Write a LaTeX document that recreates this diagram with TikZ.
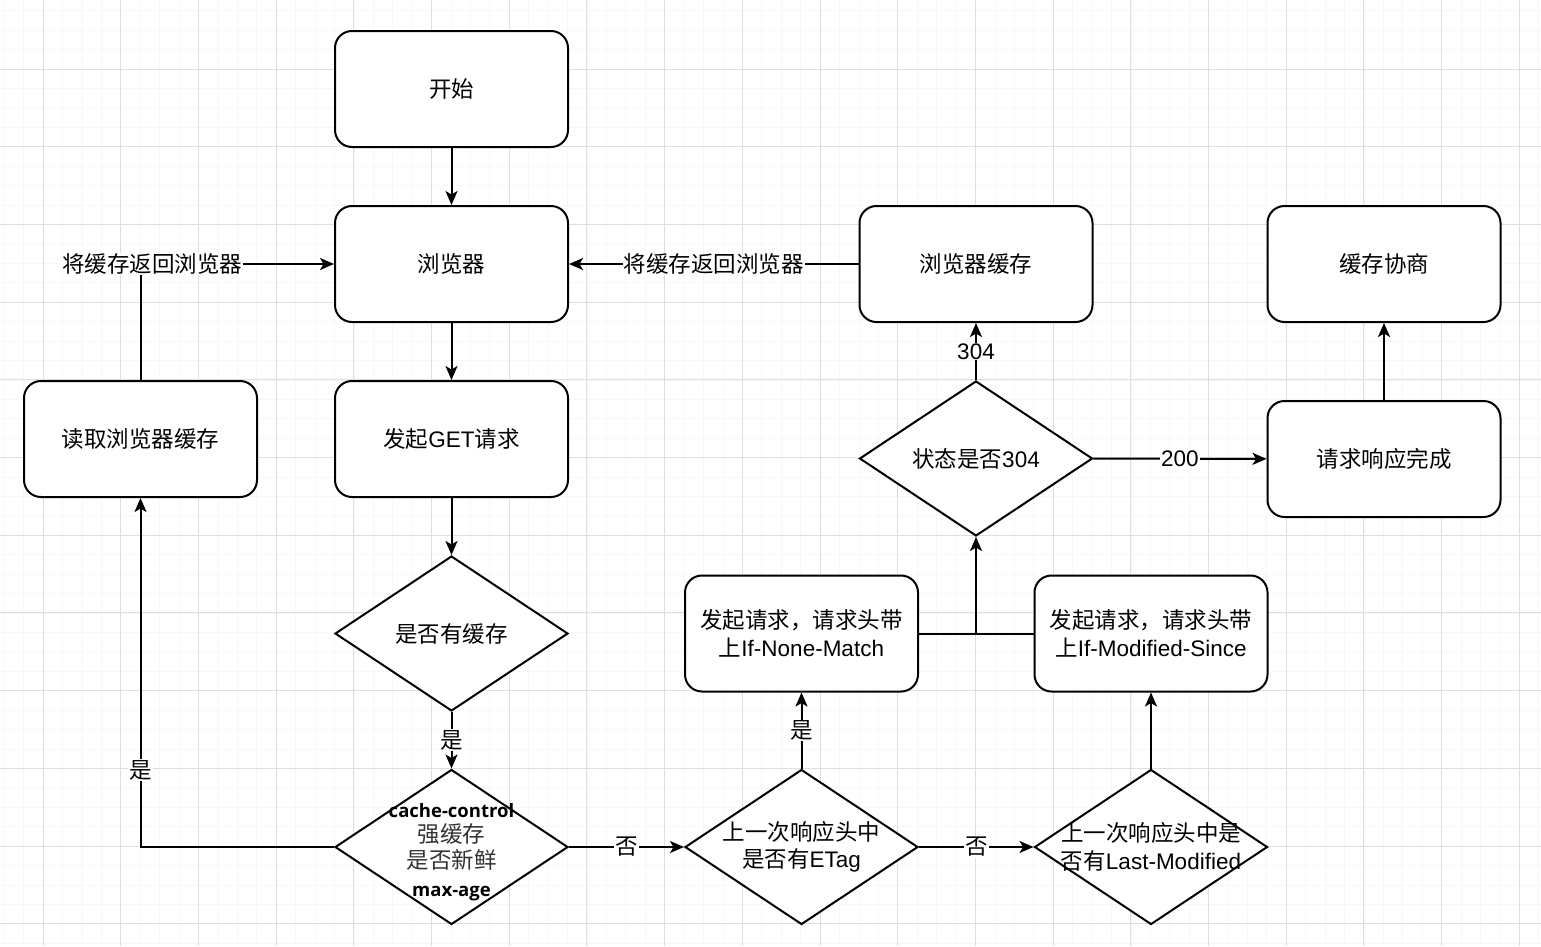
\documentclass[tikz,border=0pt]{standalone}
\usepackage{fontspec}
\setmainfont{Noto Sans CJK SC}
\newfontfamily\lat{Liberation Sans}
\newfontfamily\bsans{Open Sans}
\usetikzlibrary{shapes.geometric,arrows.meta}
\tikzset{
  base/.style={draw=black, line width=2pt, fill=white, text=black,
    font=\fontsize{22.5}{27.5}\selectfont, align=center},
  box/.style={base, rounded corners=17pt, minimum width=233pt, minimum height=116pt, inner sep=0pt},
  dia/.style={base, diamond, minimum width=233pt, minimum height=155pt, inner sep=0pt},
  arr/.style={line width=2pt, -{Stealth[length=14pt,width=12pt,inset=3.5pt]}},
  ln/.style={line width=2pt},
  lbl/.style={fill=white, inner sep=1pt, font=\fontsize{22.5}{25}\selectfont, text=black},
}
\begin{document}
\begin{tikzpicture}[x=1pt,y=-1pt]
\useasboundingbox (0,0) rectangle (1541,946);
\fill[white] (0,0) rectangle (1541,946);
% grid
\foreach \i in {-3,...,79} {
  \draw[black!3, line width=0.6pt] ({43+\i*77.7/4},0) -- ({43+\i*77.7/4},946);
}
\foreach \i in {-3,...,48} {
  \draw[black!3, line width=0.6pt] (0,{69+\i*77.7/4}) -- (1541,{69+\i*77.7/4});
}
\foreach \i in {0,...,19} {
  \draw[black!13, line width=1pt] ({43+\i*77.7},0) -- ({43+\i*77.7},946);
}
\foreach \i in {0,...,11} {
  \draw[black!13, line width=1pt] (0,{69+\i*77.7}) -- (1541,{69+\i*77.7});
}

% nodes
\node[box] (start) at (451.5,89) {开始};
\node[box] (browser) at (451.5,264) {浏览器};
\node[box] (get) at (451.5,439) {发起{\lat GET}请求};
\node[box] (read) at (140.5,439) {读取浏览器缓存};
\node[box] (bcache) at (976,264) {浏览器缓存};
\node[box] (nego) at (1384,264) {缓存协商};
\node[box] (done) at (1384,459) {请求响应完成};
\node[dia] (s304) at (976,458.5) {状态是否{\lat 304}};
\node[dia] (hascache) at (451.5,633.5) {是否有缓存};
\node[dia] (fresh) at (451.5,847) {};
\node[font=\bsans\bfseries\fontsize{18.5}{20}\selectfont] (fresh1) at (451.5,811) {cache-control};
\node[font=\fontsize{22.5}{27}\selectfont, text=black!80, align=center] (fresh2) at (451.5,847) {强缓存\\[-1pt]是否新鲜};
\node[font=\bsans\bfseries\fontsize{18.5}{20}\selectfont] (fresh3) at (451.5,894) {max-age};
\node[dia] (etag) at (801.5,847) {};
\node[font=\fontsize{22.5}{27.5}\selectfont, align=center] (etagt) at (801.5,847) {上一次响应头中\\是否有{\lat ETag}};
\node[dia] (lm) at (1151,847) {};
\node[font=\fontsize{22.5}{27.5}\selectfont, align=center] (lmt) at (1151,847) {上一次响应头中是\\否有{\lat Last-Modified}};
\node[box] (inm) at (801.5,633.5) {发起请求，请求头带\\上{\lat If-None-Match}};
\node[box] (ims) at (1151,633.5) {发起请求，请求头带\\上{\lat If-Modified-Since}};

% connectors
\draw[arr] (start) -- (browser);
\draw[arr] (browser) -- (get);
\draw[arr] (get) -- (hascache);
\draw[arr] (hascache) -- node[lbl]{是} (fresh);
\draw[arr] (fresh.west) -| node[lbl, pos=0.61]{是} (read.south);
\draw[arr] (read.north) |- node[lbl, pos=0.53]{将缓存返回浏览器} (browser.west);
\draw[arr] (fresh) -- node[lbl]{否} (etag);
\draw[arr] (etag) -- node[lbl]{是} (inm);
\draw[arr] (etag) -- node[lbl]{否} (lm);
\draw[arr] (lm) -- (ims);
\coordinate (j) at (976,633.5);
\draw[ln] (inm.east) -- (j);
\draw[ln] (ims.west) -- (j);
\draw[arr] (j) -- (s304.south);
\draw[arr] (s304) -- node[lbl]{\lat 304} (bcache);
\draw[arr] (bcache) -- node[lbl]{将缓存返回浏览器} (browser);
\draw[arr] (s304) -- node[lbl]{\lat 200} (done);
\draw[arr] (done) -- (nego);
\end{tikzpicture}
\end{document}
